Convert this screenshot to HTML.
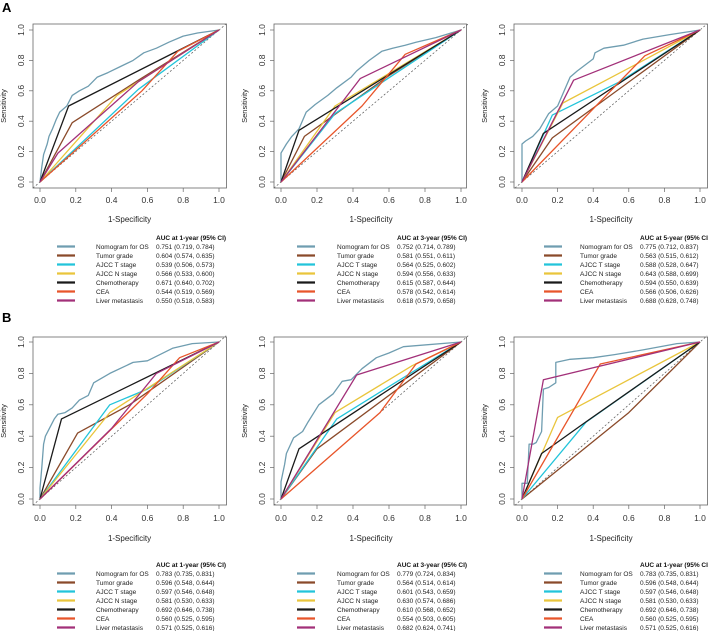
<!DOCTYPE html>
<html><head><meta charset="utf-8"><style>
body{margin:0;background:#fff;width:708px;height:631px;overflow:hidden}
svg{display:block;font-family:"Liberation Sans",Arial,sans-serif}
</style></head><body>
<svg id="fig" width="708" height="631" viewBox="0 0 708 631"></svg>
<script>
const seriesNames = ["Nomogram for OS","Tumor grade","AJCC T stage","AJCC N stage","Chemotherapy","CEA","Liver metastasis"];
const seriesColors = ["#6f9db0","#8a4a2a","#22c4da","#e9c53c","#1a1a1a","#e8552a","#a23079"];
const panelTitles = ["AUC at 1-year (95% CI)","AUC at 3-year (95% CI)","AUC at 5-year (95% CI)","AUC at 1-year (95% CI)","AUC at 3-year (95% CI)","AUC at 1-year (95% CI)"];
const ticks = [0,0.2,0.4,0.6,0.8,1.0];
const tickLabels = ["0.0","0.2","0.4","0.6","0.8","1.0"];

const aucA1 = ["0.751 (0.719, 0.784)","0.604 (0.574, 0.635)","0.539 (0.506, 0.573)","0.566 (0.533, 0.600)","0.671 (0.640, 0.702)","0.544 (0.519, 0.569)","0.550 (0.518, 0.583)"];
const aucA2 = ["0.752 (0.714, 0.789)","0.581 (0.551, 0.611)","0.564 (0.525, 0.602)","0.594 (0.556, 0.633)","0.615 (0.587, 0.644)","0.578 (0.542, 0.614)","0.618 (0.579, 0.658)"];
const aucA3 = ["0.775 (0.712, 0.837)","0.563 (0.515, 0.612)","0.588 (0.528, 0.647)","0.643 (0.588, 0.699)","0.594 (0.550, 0.639)","0.566 (0.506, 0.626)","0.688 (0.628, 0.748)"];
const aucB1 = ["0.783 (0.735, 0.831)","0.596 (0.548, 0.644)","0.597 (0.546, 0.648)","0.581 (0.530, 0.633)","0.692 (0.646, 0.738)","0.560 (0.525, 0.595)","0.571 (0.525, 0.616)"];
const aucB2 = ["0.779 (0.724, 0.834)","0.564 (0.514, 0.614)","0.601 (0.543, 0.659)","0.630 (0.574, 0.686)","0.610 (0.568, 0.652)","0.554 (0.503, 0.605)","0.682 (0.624, 0.741)"];
const aucB3 = ["0.783 (0.735, 0.831)","0.596 (0.548, 0.644)","0.597 (0.546, 0.648)","0.581 (0.530, 0.633)","0.692 (0.646, 0.738)","0.560 (0.525, 0.595)","0.571 (0.525, 0.616)"];

// curves: [fpr, tpr] pairs
const curvesA1 = [
 [[0,0],[.01,.1],[.02,.18],[.04,.25],[.05,.3],[.07,.35],[.09,.41],[.11,.46],[.15,.5],[.18,.57],[.22,.6],[.27,.63],[.32,.69],[.38,.72],[.45,.76],[.52,.8],[.58,.85],[.65,.88],[.72,.92],[.8,.96],[.88,.98],[1,1]],
 [[0,0],[.18,.39],[.55,.67],[1,1]],
 [[0,0],[.55,.61],[1,1]],
 [[0,0],[.43,.57],[1,1]],
 [[0,0],[.16,.5],[1,1]],
 [[0,0],[.57,.6],[.77,.86],[1,1]],
 [[0,0],[.1,.19],[.55,.66],[1,1]]];
const curvesA2 = [
 [[0,0],[0,.19],[.03,.25],[.06,.3],[.1,.35],[.14,.46],[.19,.51],[.26,.57],[.31,.62],[.39,.69],[.42,.73],[.49,.8],[.56,.86],[.62,.88],[.69,.9],[.75,.92],[.86,.95],[1,1]],
 [[0,0],[.13,.3],[.6,.7],[1,1]],
 [[0,0],[.3,.45],[1,1]],
 [[0,0],[.3,.5],[1,1]],
 [[0,0],[.1,.34],[1,1]],
 [[0,0],[.45,.5],[.69,.84],[1,1]],
 [[0,0],[.44,.68],[1,1]]];
const curvesA3 = [
 [[0,0],[0,.25],[.02,.27],[.06,.3],[.1,.35],[.15,.45],[.2,.5],[.27,.69],[.31,.73],[.4,.81],[.41,.85],[.46,.88],[.57,.9],[.68,.94],[.83,.97],[1,1]],
 [[0,0],[.17,.29],[1,1]],
 [[0,0],[.17,.44],[.55,.66],[1,1]],
 [[0,0],[.23,.52],[.65,.78],[1,1]],
 [[0,0],[.12,.32],[1,1]],
 [[0,0],[.69,.83],[1,1]],
 [[0,0],[.29,.67],[1,1]]];
const curvesB1 = [
 [[0,0],[0,.07],[.01,.2],[.02,.35],[.03,.4],[.08,.51],[.1,.54],[.14,.55],[.18,.58],[.22,.63],[.27,.66],[.3,.74],[.39,.8],[.52,.87],[.6,.88],[.74,.96],[.85,.99],[1,1]],
 [[0,0],[.21,.42],[.5,.6],[1,1]],
 [[0,0],[.39,.6],[.6,.7],[1,1]],
 [[0,0],[.39,.55],[1,1]],
 [[0,0],[.12,.51],[1,1]],
 [[0,0],[.6,.67],[.78,.9],[1,1]],
 [[0,0],[.4,.45],[.65,.8],[1,1]]];
const curvesB2 = [
 [[0,0],[0,.11],[.02,.22],[.03,.29],[.05,.34],[.07,.39],[.12,.43],[.15,.49],[.21,.6],[.29,.67],[.34,.75],[.39,.76],[.45,.83],[.53,.9],[.6,.93],[.68,.97],[1,1]],
 [[0,0],[.2,.32],[1,1]],
 [[0,0],[.31,.51],[1,1]],
 [[0,0],[.3,.55],[.73,.85],[1,1]],
 [[0,0],[.1,.32],[1,1]],
 [[0,0],[.55,.55],[.75,.86],[1,1]],
 [[0,0],[.42,.79],[1,1]]];
const curvesB3 = [
 [[0,0],[0,.1],[.03,.1],[.04,.35],[.064,.35],[.08,.36],[.11,.43],[.12,.7],[.15,.71],[.19,.74],[.19,.87],[.27,.89],[.4,.9],[.52,.92],[.68,.95],[.87,.99],[1,1]],
 [[0,0],[.6,.55],[1,1]],
 [[0,0],[.36,.49],[1,1]],
 [[0,0],[.2,.52],[1,1]],
 [[0,0],[.11,.29],[.37,.5],[1,1]],
 [[0,0],[.44,.86],[1,1]],
 [[0,0],[.12,.76],[1,1]]];

const allCurves=[curvesA1,curvesA2,curvesA3,curvesB1,curvesB2,curvesB3];
const allAuc=[aucA1,aucA2,aucA3,aucB1,aucB2,aucB3];

const NS="http://www.w3.org/2000/svg";
const svg=document.getElementById('fig');
function mk(tag,attrs,parent){const e=document.createElementNS(NS,tag);for(const k in attrs)e.setAttribute(k,attrs[k]);(parent||svg).appendChild(e);return e;}

const cols=[{bl:33,br:227,x0:40,x1:219,leg:57,lab:96,val:156},{bl:274,br:467,x0:281,x1:461,leg:297,lab:337,val:397},{bl:514,br:708,x0:522,x1:700,leg:544,lab:580,val:640}];
const rows=[{bt:24,bb:188,y1:30,y0:182,tl:200,xl:222,lg:240},{bt:337,bb:505,y1:342,y0:499,tl:518,xl:541,lg:567}];

["A","B"].forEach((L,i)=>{const t=mk('text',{x:2,y:i?322:12,'font-size':13,'font-weight':'bold',fill:'#000'});t.textContent=L;

});

for(let p=0;p<6;p++){
 const c=cols[p%3], r=rows[Math.floor(p/3)];
 const g=mk('g',{});
 
 
 const sx=v=>c.x0+v*(c.x1-c.x0), sy=v=>r.y0-v*(r.y0-r.y1);
 const d=mk('line',{x1:sx(-0.04),y1:sy(-0.04),x2:sx(1.04),y2:sy(1.04),stroke:'#555','stroke-width':0.7,'stroke-dasharray':'2,2'},g);
 
 
 allCurves[p].forEach((pts,k)=>{
  const pl=mk('polyline',{points:pts.map(q=>sx(q[0]).toFixed(1)+','+sy(q[1]).toFixed(1)).join(' '),fill:'none',stroke:seriesColors[k],'stroke-width':1.3,'stroke-linejoin':'round'},g);
  
  
 });
 const b=mk('rect',{x:c.bl,y:r.bt,width:c.br-c.bl-0.5,height:r.bb-r.bt,fill:'none',stroke:'#666','stroke-width':0.8},g);
 
 
 ticks.forEach((t,i)=>{
  mk('line',{x1:sx(t),y1:r.bb,x2:sx(t),y2:r.bb+4,stroke:'#666','stroke-width':0.7},g);
  const tx=mk('text',{x:sx(t),y:r.tl+3,'font-size':8.5,'text-anchor':'middle',fill:'#333'},g);tx.textContent=tickLabels[i];
  
  
  mk('line',{x1:c.bl,y1:sy(t),x2:c.bl-4,y2:sy(t),stroke:'#666','stroke-width':0.7},g);
  const ty=mk('text',{x:0,y:0,'font-size':8.5,'text-anchor':'middle',fill:'#333',transform:`translate(${c.bl-9},${sy(t)}) rotate(-90)`},g);ty.textContent=tickLabels[i];
  
  
 });
 const xt=mk('text',{x:(c.x0+c.x1)/2,y:r.xl,'font-size':8,'text-anchor':'middle',fill:'#222'},g);xt.textContent='1-Specificity';
 
 
 const yt=mk('text',{x:0,y:0,'font-size':7.5,'text-anchor':'middle',fill:'#222',transform:`translate(${c.bl-27},${(r.bt+r.bb)/2}) rotate(-90)`},g);yt.textContent='Sensitivity';
 
 
 const lg=mk('g',{},g);
 
 
 const tt=mk('text',{x:c.val,y:r.lg,'font-size':6.5,'font-weight':'bold',fill:'#111'},lg);tt.textContent=panelTitles[p];
 
 
 seriesNames.forEach((n,k)=>{
  const yy=r.lg+9*(k+1);
  const e=mk('g',{},lg);
  
  
  mk('line',{x1:c.leg,y1:yy-2.5,x2:c.leg+18,y2:yy-2.5,stroke:seriesColors[k],'stroke-width':2.2},e);
  const a=mk('text',{x:c.lab,y:yy,'font-size':6.5,fill:'#222'},e);a.textContent=n;
  const v=mk('text',{x:c.val,y:yy,'font-size':6.5,fill:'#222'},e);v.textContent=allAuc[p][k];
 });
}
</script>
</body></html>
